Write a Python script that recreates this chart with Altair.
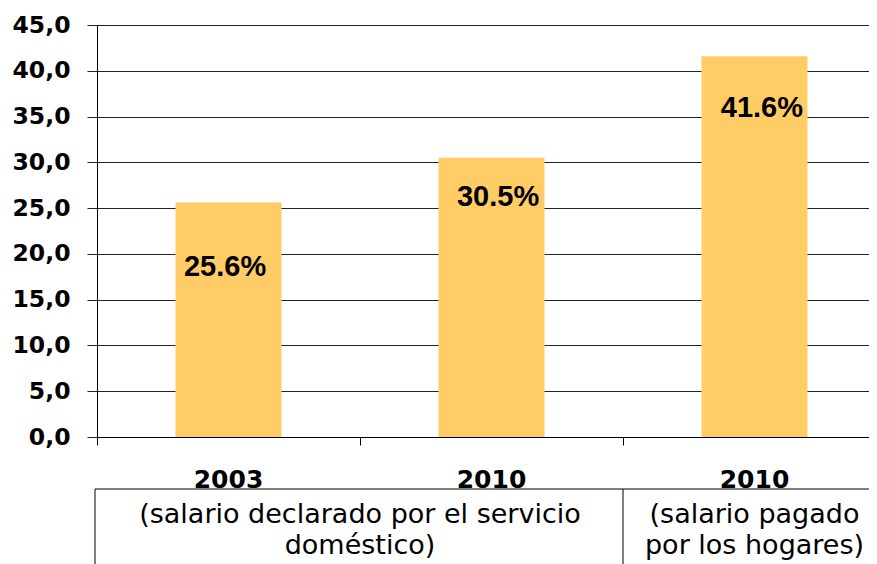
import altair as alt
import pandas as pd

# ---- data ----
cat_pos = [0.5, 1.5, 2.5]                  # category centres (category index units)
years = ["2003", "2010", "2010"]
values = [25.6, 30.5, 41.6]
value_labels = ["25.6%", "30.5%", "41.6%"]
label_x = [0.487, 1.525, 2.528]            # where each value label sits
label_y = [18.6, 26.2, 35.9]
y_ticks = [0, 5, 10, 15, 20, 25, 30, 35, 40, 45]
cat_bounds = [0, 1, 2]
sub_lines_a = ["(salario declarado por el servicio", "doméstico)"]
sub_lines_b = ["(salario pagado", "por los hogares)"]
sub_pos = [1.0, 2.5]

BAR = "#FFCC66"
GRID = "#222222"
W, H = 772, 412
PAD_L = 89
PAD_T = 17
PAD_B = 127
STEP = 263  # px per category

df = pd.DataFrame({"pos": cat_pos, "year": years, "value": values,
                   "label": value_labels, "lx": label_x, "ly": label_y})

x_scale = alt.Scale(domain=[0, W / STEP], nice=False, zero=False, padding=0)
y_scale = alt.Scale(domain=[0, 45], nice=False)

x_axis = alt.Axis(
    title=None, grid=False, domain=True, domainColor="#000000", domainWidth=1,
    ticks=True, values=cat_bounds, tickSize=8, tickColor="#000000", labels=False,
)
y_axis = alt.Axis(
    title=None, values=y_ticks, grid=True, gridColor=GRID, gridWidth=1,
    domain=True, domainColor="#000000", domainWidth=1,
    ticks=True, tickSize=10, tickColor=GRID,
    labelExpr="replace(format(datum.value, '.1f'), '.', ',')",
    labelFont="DejaVu Sans", labelFontWeight="bold", labelFontSize=23.5,
    labelColor="#000000", labelPadding=17,
)

bars = alt.Chart(df).mark_bar(color=BAR, size=106).encode(
    x=alt.X("pos:Q", scale=x_scale, axis=x_axis),
    y=alt.Y("value:Q", scale=y_scale, axis=y_axis),
)

labels = alt.Chart(df).mark_text(
    font="Liberation Sans", fontWeight="bold", fontSize=29, color="#000000",
    baseline="middle", align="center",
).encode(
    x=alt.X("lx:Q", scale=x_scale),
    y=alt.Y("ly:Q", scale=y_scale),
    text="label:N",
)

years_txt = alt.Chart(df).mark_text(
    font="DejaVu Sans", fontWeight="bold", fontSize=25, color="#000000",
    baseline="alphabetic", align="center",
).encode(
    x=alt.X("pos:Q", scale=x_scale),
    y=alt.value(488 - 25),
    text="year:N",
)

# table-like frame under the axis
frame_h = alt.Chart(df.head(1)).mark_rule(color="#000000", strokeWidth=1).encode(
    x=alt.value(-2), x2=alt.value(W), y=alt.value(489 - 25)
)
frame_left = alt.Chart(df.head(1)).mark_rule(color="#000000", strokeWidth=1).encode(
    x=alt.value(-2), y=alt.value(489 - 25), y2=alt.value(H + PAD_B)
)
frame_mid = alt.Chart(pd.DataFrame({"b": [cat_bounds[2]]})).mark_rule(
    color="#000000", strokeWidth=1
).encode(
    x=alt.X("b:Q", scale=x_scale),
    y=alt.value(489 - 25), y2=alt.value(H + PAD_B),
)

sub_df = pd.DataFrame({"p": sub_pos, "t": [sub_lines_a, sub_lines_b]})
sub_txt = alt.Chart(sub_df).mark_text(
    font="DejaVu Sans", fontSize=27, lineHeight=31, color="#000000",
    align="center", baseline="alphabetic",
).encode(
    x=alt.X("p:Q", scale=x_scale),
    y=alt.value(523 - 25),
    text="t",
)

chart = alt.layer(bars, labels, years_txt, frame_h, frame_left, frame_mid, sub_txt).properties(
    width=W, height=H,
    autosize=alt.AutoSizeParams(type="none"),
    padding={"left": PAD_L, "top": PAD_T, "right": 0, "bottom": PAD_B},
    background="white",
).configure_view(stroke=None)

chart.save("out.html", embed_options={"renderer": "svg", "actions": False})
